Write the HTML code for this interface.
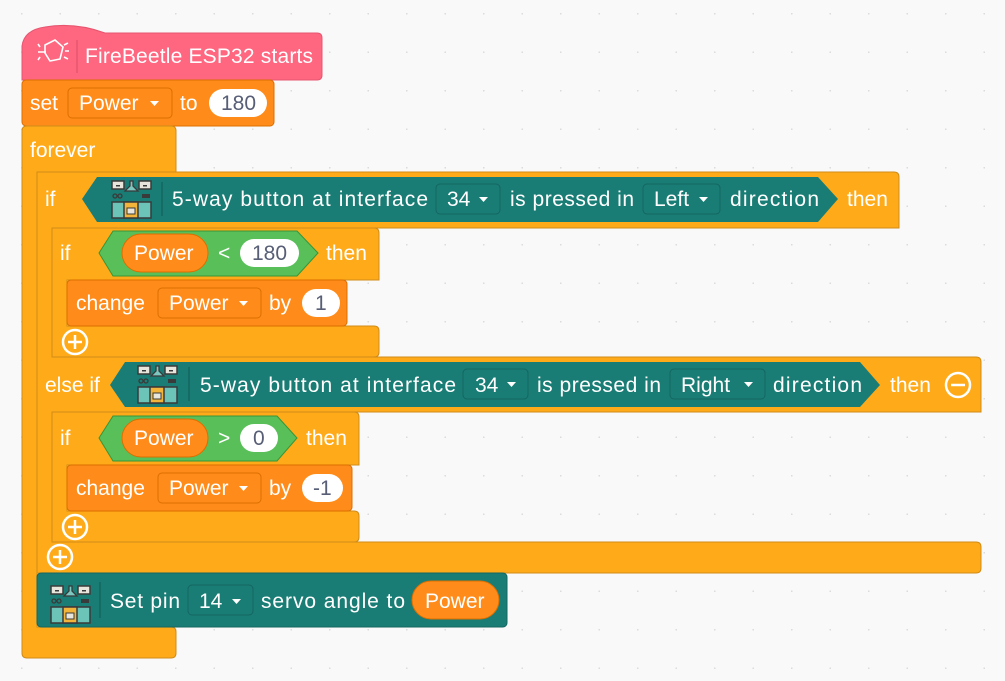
<!DOCTYPE html>
<html><head><meta charset="utf-8"><style>
html,body{margin:0;padding:0;background:#f9f9f9;}
svg{display:block;}
text{font-family:"Liberation Sans",sans-serif;font-size:21px;fill:#fff;}
.d{fill:#575e75;}
</style></head><body>
<svg width="1005" height="681" viewBox="0 0 1005 681" xmlns="http://www.w3.org/2000/svg">
<defs>
<pattern id="dots" x="-16" y="-24" width="38.5" height="38.5" patternUnits="userSpaceOnUse">
<rect x="37" y="37" width="2" height="2" fill="#dcdcdc"/>
</pattern>
<g id="ico">
<rect x="0" y="0" width="12" height="8" fill="#e8e6dc" stroke="#3a3a3a" stroke-width="1.5"/>
<rect x="4" y="4" width="4" height="1.5" fill="#3a3a3a"/>
<rect x="27" y="0" width="12" height="8" fill="#e8e6dc" stroke="#3a3a3a" stroke-width="1.5"/>
<rect x="31" y="4" width="4" height="1.5" fill="#3a3a3a"/>
<path d="M18,0 h3 v5 l5,5 h-13 l5,-5 z" fill="#7cc7c0" stroke="#3a3a3a" stroke-width="1.3"/>
<circle cx="3" cy="15" r="2" fill="none" stroke="#3a3a3a" stroke-width="1.3"/>
<circle cx="8" cy="15" r="2" fill="none" stroke="#3a3a3a" stroke-width="1.3"/>
<rect x="30" y="13" width="8" height="4" fill="#3a3a3a"/>
<rect x="0" y="21" width="39" height="16" fill="#6cc4b9" stroke="#3a3a3a" stroke-width="1.5"/>
<rect x="12" y="21" width="14" height="16" fill="#f2b43a" stroke="#3a3a3a" stroke-width="1.5"/>
<rect x="15" y="27" width="8" height="6" fill="#e8e6dc" stroke="#3a3a3a" stroke-width="1"/>
</g>
</defs>
<rect width="1005" height="681" fill="url(#dots)"/>

<!-- hat -->
<path d="M22,46 Q24,30 45,27 Q75,22 105,33 H317 q5,0 5,5 V75 q0,5 -5,5 H22 Z" fill="#ff6680" stroke="#e6566f"/>
<g stroke="#fff" stroke-width="1.6" fill="none">
<path d="M45,45 l10,-5 l8,7 l-3,12 l-10,2 l-5,-8 z"/>
<path d="M38,52 h8 M40,47 l-2,-3 M40,57 l-2,3"/>
<path d="M64,45 l4,-2 M65,51 h4 M64,57 l4,2"/>
</g>
<line x1="77" y1="40" x2="77" y2="73" stroke="#e6566f" stroke-width="1.5"/>
<text x="85" y="63" textLength="228">FireBeetle ESP32 starts</text>

<!-- set -->
<rect x="22" y="80" width="252" height="46" rx="4" fill="#ff8c1a" stroke="#db6e00"/>
<text x="30" y="110">set</text>
<rect x="68" y="88" width="104" height="30" rx="4" fill="#ff8c1a" stroke="#db6e00"/>
<text x="79" y="110">Power</text><path d="M150,101 h9 l-4.5,5 z" fill="#fff"/>
<text x="180" y="110">to</text>
<rect x="209" y="89" width="58" height="28" rx="14" fill="#fff"/>
<text x="221" y="110" class="d">180</text>

<!-- forever -->
<path d="M22,131 q0,-5 5,-5 H171 q5,0 5,5 V172 H37 V627 H171 q5,0 5,5 V653 q0,5 -5,5 H27 q-5,0 -5,-5 Z" fill="#ffab19" stroke="#cf8b17"/>
<text x="30" y="157">forever</text>

<!-- outer if -->
<path d="M37,172 H894 q5,0 5,5 V228 H52 V357 H976 q5,0 5,5 V412 H52 V542 H976 q5,0 5,5 V568 q0,5 -5,5 H37 Z" fill="#ffab19" stroke="#cf8b17"/>
<text x="45" y="206">if</text>
<path d="M82,199 L97,177 H818 L838,199 L818,222 H97 Z" fill="#1a7d75"/>
<use href="#ico" x="112" y="181"/>
<line x1="162" y1="182" x2="162" y2="216" stroke="#136660" stroke-width="1.5"/>
<text x="172" y="206" textLength="256">5-way button at interface</text>
<rect x="436" y="184" width="64" height="30" rx="4" fill="#1a7d75" stroke="#136660"/>
<text x="447" y="206">34</text><path d="M479,197 h9 l-4.5,5 z" fill="#fff"/>
<text x="510" y="206" textLength="124">is pressed in</text>
<rect x="643" y="184" width="77" height="30" rx="4" fill="#1a7d75" stroke="#136660"/>
<text x="654" y="206">Left</text><path d="M699,197 h9 l-4.5,5 z" fill="#fff"/>
<text x="730" y="206" textLength="89">direction</text>
<text x="847" y="206">then</text>

<!-- inner if 1 -->
<path d="M52,228 H374 q5,0 5,5 V280 H67 V326 H374 q5,0 5,5 V352 q0,5 -5,5 H52 Z" fill="#ffab19" stroke="#cf8b17"/>
<text x="60" y="260">if</text>
<path d="M99,253 L113,231 H297 L318,253 L297,276 H113 Z" fill="#59c059" stroke="#389438"/>
<rect x="122" y="234" width="86" height="38" rx="19" fill="#ff8c1a" stroke="#db6e00"/>
<text x="134" y="260">Power</text>
<text x="218" y="260">&lt;</text>
<rect x="240" y="239" width="59" height="28" rx="14" fill="#fff"/>
<text x="252" y="260" class="d">180</text>
<text x="326" y="260">then</text>
<rect x="67" y="280" width="280" height="46" rx="4" fill="#ff8c1a" stroke="#db6e00"/>
<text x="76" y="310">change</text>
<rect x="158" y="288" width="103" height="30" rx="4" fill="#ff8c1a" stroke="#db6e00"/>
<text x="169" y="310">Power</text><path d="M239,301 h9 l-4.5,5 z" fill="#fff"/>
<text x="269" y="310">by</text>
<rect x="302" y="289" width="38" height="28" rx="14" fill="#fff"/>
<text x="315" y="310" class="d">1</text>
<circle cx="75" cy="342" r="12" fill="none" stroke="#fff" stroke-width="2.5"/>
<path d="M68,342 h14 M75,335 v14" stroke="#fff" stroke-width="2.5"/>

<!-- else if -->
<text x="45" y="392">else if</text>
<path d="M110,385 L125,362 H860 L880,385 L860,407 H125 Z" fill="#1a7d75"/>
<use href="#ico" x="138" y="366"/>
<line x1="189" y1="367" x2="189" y2="401" stroke="#136660" stroke-width="1.5"/>
<text x="200" y="392" textLength="256">5-way button at interface</text>
<rect x="463" y="369" width="65" height="30" rx="4" fill="#1a7d75" stroke="#136660"/>
<text x="475" y="392">34</text><path d="M507,382 h9 l-4.5,5 z" fill="#fff"/>
<text x="537" y="392" textLength="124">is pressed in</text>
<rect x="670" y="369" width="95" height="30" rx="4" fill="#1a7d75" stroke="#136660"/>
<text x="681" y="392">Right</text><path d="M744,382 h9 l-4.5,5 z" fill="#fff"/>
<text x="773" y="392" textLength="89">direction</text>
<text x="890" y="392">then</text>
<circle cx="958" cy="385" r="12" fill="none" stroke="#fff" stroke-width="2.5"/>
<path d="M951,385 h14" stroke="#fff" stroke-width="2.5"/>

<!-- inner if 2 -->
<path d="M52,412 H354 q5,0 5,5 V465 H67 V511 H354 q5,0 5,5 V537 q0,5 -5,5 H52 Z" fill="#ffab19" stroke="#cf8b17"/>
<text x="60" y="445">if</text>
<path d="M99,438 L113,416 H277 L297,438 L277,461 H113 Z" fill="#59c059" stroke="#389438"/>
<rect x="122" y="419" width="86" height="38" rx="19" fill="#ff8c1a" stroke="#db6e00"/>
<text x="134" y="445">Power</text>
<text x="218" y="445">&gt;</text>
<rect x="240" y="424" width="38" height="28" rx="14" fill="#fff"/>
<text x="253" y="445" class="d">0</text>
<text x="306" y="445">then</text>
<rect x="67" y="465" width="285" height="46" rx="4" fill="#ff8c1a" stroke="#db6e00"/>
<text x="76" y="495">change</text>
<rect x="158" y="473" width="103" height="30" rx="4" fill="#ff8c1a" stroke="#db6e00"/>
<text x="169" y="495">Power</text><path d="M239,486 h9 l-4.5,5 z" fill="#fff"/>
<text x="269" y="495">by</text>
<rect x="302" y="474" width="41" height="28" rx="14" fill="#fff"/>
<text x="313" y="495" class="d">-1</text>
<circle cx="75" cy="527" r="12" fill="none" stroke="#fff" stroke-width="2.5"/>
<path d="M68,527 h14 M75,520 v14" stroke="#fff" stroke-width="2.5"/>

<circle cx="60" cy="557" r="12" fill="none" stroke="#fff" stroke-width="2.5"/>
<path d="M53,557 h14 M60,550 v14" stroke="#fff" stroke-width="2.5"/>

<!-- set pin -->
<rect x="37" y="573" width="470" height="54" rx="4" fill="#1a7d75" stroke="#136660"/>
<use href="#ico" x="51" y="586"/>
<line x1="100" y1="582" x2="100" y2="618" stroke="#136660" stroke-width="1.5"/>
<text x="110" y="608" textLength="70">Set pin</text>
<rect x="188" y="585" width="65" height="30" rx="4" fill="#1a7d75" stroke="#136660"/>
<text x="199" y="608">14</text><path d="M232,599 h9 l-4.5,5 z" fill="#fff"/>
<text x="261" y="608" textLength="144">servo angle to</text>
<rect x="412" y="581" width="87" height="38" rx="19" fill="#ff8c1a" stroke="#db6e00"/>
<text x="425" y="608">Power</text>
</svg>
</body></html>
